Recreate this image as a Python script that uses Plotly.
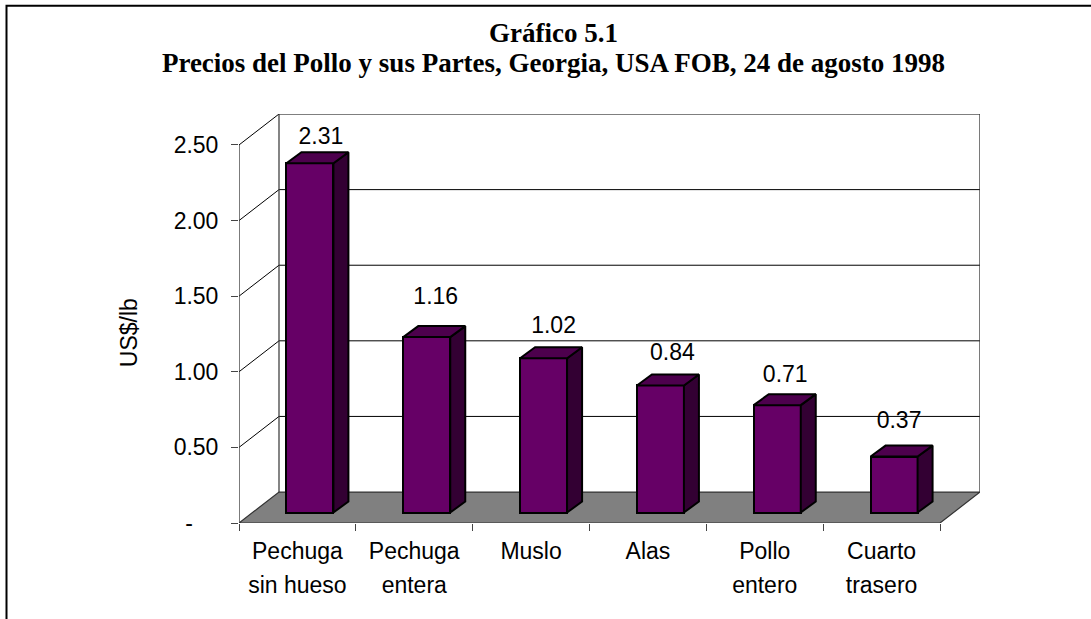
import plotly.graph_objects as go

categories_line1 = ["Pechuga", "Pechuga", "Muslo", "Alas", "Pollo", "Cuarto"]
categories_line2 = ["sin hueso", "entera", "", "", "entero", "trasero"]
values = [2.31, 1.16, 1.02, 0.84, 0.71, 0.37]
value_labels = ["2.31", "1.16", "1.02", "0.84", "0.71", "0.37"]
y_ticks = [0, 0.5, 1.0, 1.5, 2.0, 2.5]
y_tick_labels = ["-\u00a0\u00a0\u00a0\u00a0", "0.50", "1.00", "1.50", "2.00", "2.50"]
# manual label placement relative to each bar (value units / pixels)
label_lift = [0.164, 0.257, 0.205, 0.207, 0.192, 0.227]
label_shift_px = [11, 9, 10, 12, 8, 5]
title_line1 = "Gráfico 5.1"
title_line2 = "Precios del Pollo y sus Partes, Georgia, USA FOB, 24 de agosto 1998"

W, H = 1091, 619
L, R, T, B = 239, 940, 144.5, 523     # front plane in pixels
DX_PX, DY_PX = 40, 31                 # depth of the chart box in pixels
ux = (R - L) / 6
uy = (B - T) / 2.5
dx, dy = DX_PX / ux, DY_PX / uy
bx, by = 15 / ux, 11 / uy             # depth of a bar
shift_x, base = 12.5 / ux, 10.5 / uy  # bar offset on the floor
bw = 47 / ux

PL, PR, PT, PB = L, R + DX_PX, T - DY_PX, B   # whole plot area in pixels
xrange_ = [0, 6 + dx]
yrange_ = [0, 2.5 + dy]

FRONT, SIDE, TOP, FLOOR = "#660066", "#330033", "#4d004d", "#808080"
LINE = "#000000"
SANS = "Liberation Sans, Arial, sans-serif"
SERIF = "Liberation Serif, Times New Roman, serif"
FS = 23

def px_x(p):
    return (p - PL) / (PR - PL)

def px_y(p):
    return (PB - p) / (PB - PT)

fig = go.Figure()

def poly(xs, ys, fill, ax=("x", "y"), lw=1.0, color=LINE):
    fig.add_trace(go.Scatter(x=xs, y=ys, mode="lines", fill="toself" if fill else None,
                             fillcolor=fill, line=dict(color=color, width=lw),
                             hoverinfo="skip", showlegend=False, cliponaxis=False,
                             xaxis=ax[0], yaxis=ax[1]))

# floor
poly([0, 6, 6 + dx, dx, 0], [0, 0, dy, dy, 0], FLOOR, lw=1.2, color="#333333")
# left wall diagonals and back wall gridlines
for t in y_ticks[1:]:
    poly([0, dx, 6 + dx], [t, t + dy, t + dy], None, lw=1.0)
# wall edges
poly([0, 0], [0, 2.5], None, lw=1.3, color="#333333")
poly([dx, dx], [dy, 2.5 + dy], None, lw=1.2, color="#333333")
poly([6 + dx, 6 + dx], [dy, 2.5 + dy], None, lw=1.3, color="#333333")

# bars on an overlaid subplot so they sit above the walls
ov = ("x2", "y2")
centers = [i + 0.5 + shift_x for i in range(6)]
fig.add_trace(go.Bar(x=centers, y=values, base=[base] * 6, width=[bw] * 6,
                     marker=dict(color=FRONT, line=dict(color=LINE, width=2)),
                     hoverinfo="skip", showlegend=False, cliponaxis=False,
                     xaxis="x2", yaxis="y2"))
for c, v in zip(centers, values):
    l, r, t = c - bw / 2, c + bw / 2, base + v
    poly([r, r + bx, r + bx, r, r], [base, base + by, t + by, t, base], SIDE, ov, 2)
    poly([l, r, r + bx, l + bx, l], [t, t, t + by, t + by, t], TOP, ov, 2)

fig.add_trace(go.Scatter(
    x=[c + s / ux for c, s in zip(centers, label_shift_px)],
    y=[base + v + lift for v, lift in zip(values, label_lift)],
    text=value_labels, mode="text", textposition="middle center",
    textfont=dict(family=SANS, size=FS, color="#000000"),
    hoverinfo="skip", showlegend=False, cliponaxis=False, xaxis="x2", yaxis="y2"))

mid = [i + 0.5 for i in range(6)]
annotations = [
    dict(text=title_line1, xref="paper", yref="paper", x=px_x(553), y=px_y(32),
         xanchor="center", yanchor="middle", showarrow=False,
         font=dict(family=SERIF, size=27, color="#000000", weight="bold")),
    dict(text="US$/lb", xref="paper", yref="paper", x=px_x(129), y=px_y(333),
         xanchor="center", yanchor="middle", textangle=-90, showarrow=False,
         font=dict(family=SANS, size=FS, color="#000000")),
]

fig.update_layout(
    width=W, height=H, autosize=False, bargap=0,
    paper_bgcolor="#ffffff", plot_bgcolor="rgba(0,0,0,0)",
    margin=dict(l=PL, r=W - PR, t=PT, b=H - PB, pad=0),
    font=dict(family=SANS, size=FS, color="#000000"),
    xaxis=dict(range=xrange_, tickmode="array", tickvals=mid, ticktext=categories_line1,
               ticks="", showgrid=False, zeroline=False, showline=False,
               ticklabelstandoff=12, tickfont=dict(family=SANS, size=FS),
               minor=dict(tickmode="array", tickvals=list(range(7)), ticks="outside",
                          ticklen=7, tickcolor="#444444", tickwidth=1, showgrid=False)),
    yaxis=dict(range=yrange_, tickmode="array", tickvals=y_ticks, ticktext=y_tick_labels,
               ticks="outside", ticklen=7, tickcolor="#444444", tickwidth=1, showgrid=False,
               zeroline=False, showline=False, ticklabelstandoff=8, tickfont=dict(family=SANS, size=FS)),
    xaxis2=dict(range=xrange_, overlaying="x", anchor="y", side="bottom", tickmode="array",
                tickvals=mid, ticktext=categories_line2, ticks="", showgrid=False, zeroline=False,
                showline=False, ticklabelstandoff=46, tickfont=dict(family=SANS, size=FS)),
    yaxis2=dict(range=yrange_, overlaying="y", anchor="x", visible=False),
    title=dict(text=title_line2, x=553.5 / W, xanchor="center", y=1 - 63 / H, yanchor="middle",
               font=dict(family=SERIF, size=27, color="#000000", weight="bold")),
    annotations=annotations,
    shapes=[dict(type="rect", xref="paper", yref="paper",
                 x0=px_x(6.5), x1=px_x(W + 20), y0=px_y(H + 20), y1=px_y(5),
                 line=dict(color="#000000", width=2), layer="below")],
)
fig.write_html("out.html", config={"displayModeBar": False},
               post_script="document.body.style.margin='0';")
